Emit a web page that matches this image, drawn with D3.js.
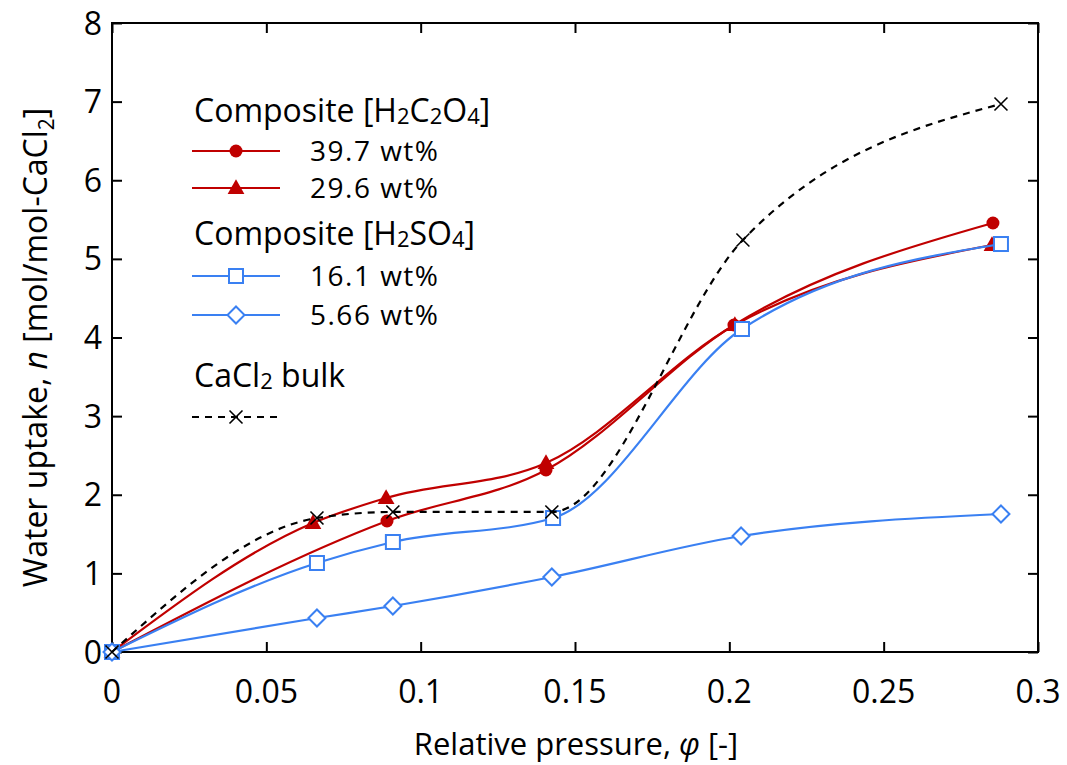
<!DOCTYPE html>
<html>
<head>
<meta charset="utf-8">
<script src="https://cdn.jsdelivr.net/npm/d3@7"></script>
<style>
  html, body { margin: 0; padding: 0; background: #fff; }
  svg { display: block; font-family: "Open Sans", "Noto Sans", sans-serif; }
</style>
</head>
<body>
<svg id="chart" width="1067" height="765"></svg>
<script>
// Water uptake isotherms of CaCl2 composites
const xTicks = [0, 0.05, 0.1, 0.15, 0.2, 0.25, 0.3];
const xTickLabels = ["0", "0.05", "0.1", "0.15", "0.2", "0.25", "0.3"];
const yTicks = [0, 1, 2, 3, 4, 5, 6, 7, 8];

// Composite [H2C2O4] 39.7 wt%
const c397X = [0, 0.0891, 0.1406, 0.2015, 0.2854];
const c397Y = [0, 1.666, 2.315, 4.159, 5.456];
// Composite [H2C2O4] 29.6 wt%
const c296X = [0, 0.0651, 0.0888, 0.1406, 0.2018, 0.2851];
const c296Y = [0, 1.641, 1.959, 2.404, 4.159, 5.176];
// Composite [H2SO4] 16.1 wt%
const s161X = [0, 0.0664, 0.0910, 0.1429, 0.2041, 0.2880];
const s161Y = [0, 1.132, 1.399, 1.704, 4.108, 5.189];
// Composite [H2SO4] 5.66 wt%
const s566X = [0, 0.0664, 0.0910, 0.1425, 0.2038, 0.2880];
const s566Y = [0, 0.432, 0.585, 0.954, 1.475, 1.755];
// CaCl2 bulk
const bulkX = [0, 0.0664, 0.0910, 0.1425, 0.2044, 0.2880];
const bulkY = [0, 1.704, 1.781, 1.781, 5.24, 6.97];

const RED = "#c00000";
const BLUE = "#3a80f2";

const svg = d3.select("#chart");
const L = 112, R = 1038, T = 23, B = 652;

const x = d3.scaleLinear().domain([0, 0.3]).range([L, R]);
const y = d3.scaleLinear().domain([0, 8]).range([B, T]);

const zip = (xs, ys) => xs.map((v, i) => [v, ys[i]]);

const series = [
  { name: "39.7 wt%", pts: zip(c397X, c397Y), color: RED, marker: "circle" },
  { name: "29.6 wt%", pts: zip(c296X, c296Y), color: RED, marker: "triangle" },
  { name: "16.1 wt%", pts: zip(s161X, s161Y), color: BLUE, marker: "square" },
  { name: "5.66 wt%", pts: zip(s566X, s566Y), color: BLUE, marker: "diamond" },
  { name: "CaCl2 bulk", pts: zip(bulkX, bulkY), color: "#000", marker: "cross", dash: "7,6" }
];

function drawMarker(g, type, cx, cy, color) {
  if (type === "circle") {
    g.append("circle").attr("cx", cx).attr("cy", cy).attr("r", 6.5).attr("fill", color);
  } else if (type === "triangle") {
    const s = 8;
    g.append("path")
      .attr("d", `M${cx},${cy - s * 1.1} L${cx + s * 1.05},${cy + s * 0.75} L${cx - s * 1.05},${cy + s * 0.75} Z`)
      .attr("fill", color);
  } else if (type === "square") {
    g.append("rect").attr("x", cx - 7).attr("y", cy - 7).attr("width", 14).attr("height", 14)
      .attr("fill", "#fff").attr("stroke", color).attr("stroke-width", 2);
  } else if (type === "diamond") {
    const s = 8.5;
    g.append("path")
      .attr("d", `M${cx},${cy - s} L${cx + s},${cy} L${cx},${cy + s} L${cx - s},${cy} Z`)
      .attr("fill", "#fff").attr("stroke", color).attr("stroke-width", 2);
  } else if (type === "cross") {
    const s = 6.5;
    g.append("path")
      .attr("d", `M${cx - s},${cy - s} L${cx + s},${cy + s} M${cx - s},${cy + s} L${cx + s},${cy - s}`)
      .attr("stroke", color).attr("stroke-width", 1.6).attr("fill", "none");
  }
}

// frame and inward ticks (mirrored on all sides)
const axes = svg.append("g");
axes.append("g").attr("transform", `translate(0,${B})`)
  .call(d3.axisBottom(x).tickValues(xTicks).tickSize(-10).tickFormat(""));
axes.append("g").attr("transform", `translate(0,${T})`)
  .call(d3.axisTop(x).tickValues(xTicks).tickSize(-10).tickFormat(""));
axes.append("g").attr("transform", `translate(${L},0)`)
  .call(d3.axisLeft(y).tickValues(yTicks).tickSize(-10).tickFormat(""));
axes.append("g").attr("transform", `translate(${R},0)`)
  .call(d3.axisRight(y).tickValues(yTicks).tickSize(-10).tickFormat(""));
axes.selectAll(".domain").remove();
axes.selectAll(".tick line").attr("stroke", "#000").attr("stroke-width", 2);
axes.append("rect").attr("x", L).attr("y", T).attr("width", R - L).attr("height", B - T)
  .attr("fill", "none").attr("stroke", "#000").attr("stroke-width", 2);

// tick labels
svg.append("g").selectAll("text").data(xTicks).join("text")
  .attr("x", d => x(d)).attr("y", 703)
  .attr("text-anchor", "middle").attr("font-size", 32).attr("fill", "#000")
  .text((d, i) => xTickLabels[i]);
svg.append("g").selectAll("text").data(yTicks).join("text")
  .attr("x", 102).attr("y", d => y(d) + 11.5)
  .attr("text-anchor", "end").attr("font-size", 32).attr("fill", "#000")
  .text(d => d);

// axis titles
const xt = svg.append("text").attr("x", 576).attr("y", 755)
  .attr("text-anchor", "middle").attr("font-size", 31).attr("fill", "#000");
xt.append("tspan").text("Relative pressure, ");
xt.append("tspan").attr("font-style", "italic").text("φ");
xt.append("tspan").text(" [-]");

const yt = svg.append("text")
  .attr("transform", `translate(47,${(T + B) / 2 + 10}) rotate(-90)`)
  .attr("text-anchor", "middle").attr("font-size", 32).attr("fill", "#000");
yt.append("tspan").text("Water uptake, ");
yt.append("tspan").attr("font-style", "italic").text("n");
yt.append("tspan").text(" [mol/mol-CaCl");
yt.append("tspan").attr("font-size", 21).attr("dy", 7).text("2");
yt.append("tspan").attr("dy", -7).text("]");

// curves
const line = d3.line().x(d => x(d[0])).y(d => y(d[1])).curve(d3.curveMonotoneX);
const plot = svg.append("g");
series.forEach(s => {
  const g = plot.append("g");
  g.append("path").datum(s.pts).attr("d", line)
    .attr("fill", "none").attr("stroke", s.color).attr("stroke-width", 2.2)
    .attr("stroke-dasharray", s.dash || null);
  s.pts.forEach(p => drawMarker(g, s.marker, x(p[0]), y(p[1]), s.color));
});

// legend
const lg = svg.append("g").attr("fill", "#000");
function heading(yb, parts) {
  const t = lg.append("text").attr("x", 194).attr("y", yb).attr("font-size", 32);
  parts.forEach(p => {
    if (p.sub) t.append("tspan").attr("font-size", 22).attr("dy", 2).text(p.t);
    else t.append("tspan").attr("dy", p.after ? -2 : 0).text(p.t);
  });
}
function entry(yc, s) {
  lg.append("line").attr("x1", 192).attr("x2", 280).attr("y1", yc).attr("y2", yc)
    .attr("stroke", s.color).attr("stroke-width", 2).attr("stroke-dasharray", s.dash || null);
  drawMarker(lg, s.marker, 236, yc, s.color);
  if (s.label !== null)
    lg.append("text").attr("x", 310).attr("y", yc + 10).attr("font-size", 28)
      .attr("letter-spacing", 1.5).text(s.name);
}
heading(122, [{ t: "Composite [H" }, { t: "2", sub: true }, { t: "C", after: true }, { t: "2", sub: true },
  { t: "O", after: true }, { t: "4", sub: true }, { t: "]", after: true }]);
entry(151, series[0]);
entry(188, series[1]);
heading(245, [{ t: "Composite [H" }, { t: "2", sub: true }, { t: "SO", after: true }, { t: "4", sub: true },
  { t: "]", after: true }]);
entry(276, series[2]);
entry(315, series[3]);
heading(387, [{ t: "CaCl" }, { t: "2", sub: true }, { t: " bulk", after: true }]);
entry(417, Object.assign({}, series[4], { label: null }));
</script>
</body>
</html>
